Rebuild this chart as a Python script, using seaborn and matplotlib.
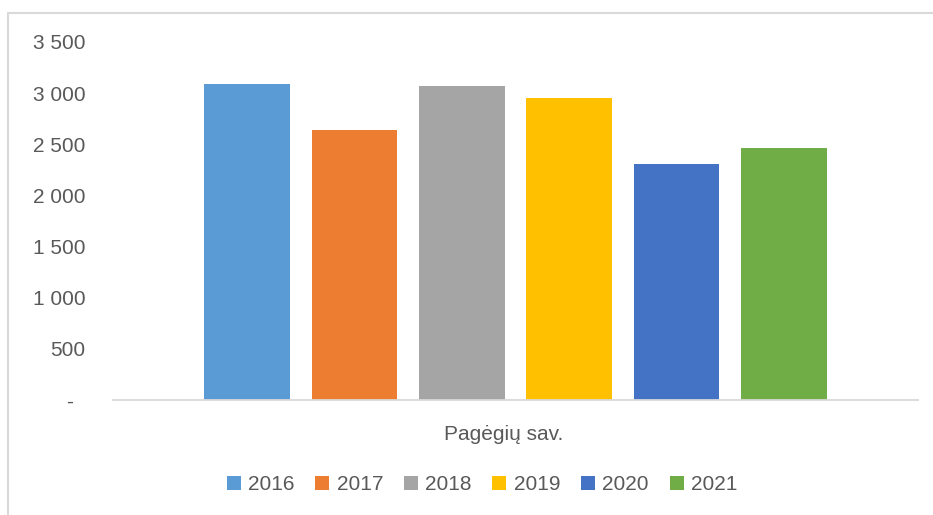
import pandas as pd
import numpy as np
from matplotlib import pyplot as plt
from matplotlib.patches import Patch, Rectangle
import seaborn as sns

sns.set_theme(style='white')
plt.rcParams['font.family'] = ['Liberation Sans', 'DejaVu Sans']

# data
region = 'Pagėgių sav.'
years = ['2016', '2017', '2018', '2019', '2020', '2021']
values = [3090, 2640, 3070, 2950, 2310, 2465]
colors = ['#5B9BD5', '#ED7D31', '#A5A5A5', '#FFC000', '#4472C4', '#70AD47']
yticks = [0, 500, 1000, 1500, 2000, 2500, 3000, 3500]
ytick_labels = ['-  ', '500', '1 000', '1 500', '2 000', '2 500', '3 000', '3 500']

df = pd.DataFrame({'Region': [region] * len(years), 'Year': years, 'Value': values})

txt = '#595959'
fig = plt.figure(figsize=(9.33, 5.15), dpi=100)
ax = fig.add_axes([113 / 933, 1 - 400 / 515, 805 / 933, 358 / 515])

sns.barplot(ax=ax, data=df, x='Region', y='Value', hue='Year',
            palette=dict(zip(years, colors)), width=0.8, gap=0.2,
            saturation=1, legend=False, linewidth=0)

ax.set_ylim(0, 3500)
ax.set_xlim(-0.5, 0.5)
ax.set_yticks(yticks)
ax.set_yticklabels(ytick_labels)
ax.tick_params(axis='y', length=0, pad=20, labelsize=15, labelcolor=txt)
ax.set_xticks([])
ax.set_xlabel('')
ax.set_ylabel('')
for s in ['top', 'right', 'left']:
    ax.spines[s].set_visible(False)
ax.spines['bottom'].set_color('#d9d9d9')
ax.spines['bottom'].set_linewidth(1.3)

fig.text(504 / 933, 1 - 434 / 515, region, ha='center', va='center',
         fontsize=15, color=txt)

handles = [Patch(facecolor=c, edgecolor='none', label=y) for y, c in zip(years, colors)]
fig.legend(handles=handles, loc='center', bbox_to_anchor=(482 / 933, 1 - 485 / 515),
           ncol=6, frameon=False, fontsize=15, labelcolor=txt,
           handlelength=0.67, handleheight=0.67, handletextpad=0.35,
           columnspacing=1.0)

# chart area border (only left and top visible in the crop)
fig.patches.append(Rectangle((8 / 933, -0.2), 1.5, 0.2 + 1 - 13 / 515,
                             transform=fig.transFigure, fill=False,
                             edgecolor='#d9d9d9', linewidth=1.5))

plt.savefig('out.png', dpi=100)
